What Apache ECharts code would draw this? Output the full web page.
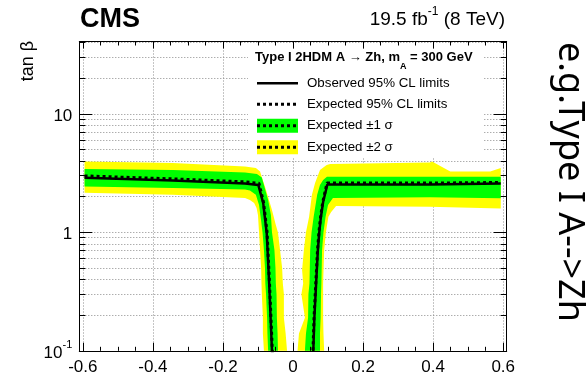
<!DOCTYPE html>
<html><head><meta charset="utf-8">
<script src="https://cdn.jsdelivr.net/npm/echarts@6/dist/echarts.min.js"></script>
<style>html,body{margin:0;padding:0;background:#fff}#c{width:586px;height:376px}</style>
</head><body><div id="c"></div>
<script>
// ---- tick values / labels ----
const xMajorTicks = [-0.6, -0.4, -0.2, 0, 0.2, 0.4, 0.6];
const xTickLabels = ['-0.6', '-0.4', '-0.2', '0', '0.2', '0.4', '0.6'];
const xMinorTicks = [-0.6,-0.55,-0.5,-0.45,-0.4,-0.35,-0.3,-0.25,-0.2,-0.15,-0.1,-0.05,0,0.05,0.1,0.15,0.2,0.25,0.3,0.35,0.4,0.45,0.5,0.55,0.6];
const yMajorTicks = [0.1, 1, 10];
const yTickLabels = [['10', '-1'], ['1', ''], ['10', '']];
const yMinorTicks = [0.1,0.2,0.3,0.4,0.5,0.6,0.7,0.8,0.9,1,2,3,4,5,6,7,8,9,10,20,30,40];

// ---- exclusion contours [cos(beta-alpha), tan beta] ----
const yellowLeft = [[-0.595,3.96],[-0.343,3.85],[-0.137,3.59],[-0.106,3.49],[-0.094,3.25],[-0.077,2.27],[-0.060,1.54],[-0.049,1.15],[-0.043,1.0],[-0.037,0.71],[-0.031,0.50],[-0.029,0.37],[-0.026,0.30],[-0.026,0.19],[-0.021,0.14],[-0.017,0.1],[-0.017,0.09],[-0.083,0.09],[-0.083,0.1],[-0.086,0.14],[-0.086,0.19],[-0.089,0.30],[-0.090,0.37],[-0.091,0.50],[-0.094,0.71],[-0.097,1.0],[-0.100,1.40],[-0.104,1.6],[-0.111,1.77],[-0.123,1.87],[-0.137,1.95],[-0.343,2.07],[-0.595,2.15]];
const greenLeft = [[-0.595,3.42],[-0.343,3.36],[-0.137,3.20],[-0.103,3.10],[-0.089,2.90],[-0.071,1.87],[-0.063,1.40],[-0.060,1.0],[-0.053,0.71],[-0.050,0.50],[-0.049,0.37],[-0.047,0.30],[-0.046,0.19],[-0.044,0.14],[-0.043,0.1],[-0.043,0.09],[-0.071,0.09],[-0.071,0.1],[-0.073,0.14],[-0.074,0.19],[-0.077,0.30],[-0.079,0.37],[-0.080,0.50],[-0.083,0.71],[-0.087,1.0],[-0.091,1.25],[-0.097,1.70],[-0.106,2.07],[-0.123,2.25],[-0.137,2.30],[-0.343,2.36],[-0.595,2.43]];
const observedLeft = [[-0.595,2.89],[-0.343,2.73],[-0.137,2.58],[-0.099,2.51],[-0.085,1.76],[-0.075,0.98],[-0.068,0.37],[-0.060,0.1],[-0.0597,0.09]];
const expectedLeft = [[-0.595,2.99],[-0.343,2.82],[-0.137,2.66],[-0.097,2.59],[-0.084,1.78],[-0.074,1.0],[-0.067,0.37],[-0.059,0.1],[-0.0587,0.09]];

const yellowRight = [[0.013,0.09],[0.013,0.1],[0.017,0.14],[0.034,0.19],[0.024,0.30],[0.029,0.37],[0.026,0.48],[0.031,0.71],[0.037,1.0],[0.046,1.35],[0.054,2.07],[0.063,2.6],[0.077,3.36],[0.096,3.70],[0.106,3.77],[0.391,3.88],[0.397,3.96],[0.449,3.26],[0.563,3.26],[0.593,3.49],[0.593,1.59],[0.391,1.64],[0.123,1.67],[0.109,1.48],[0.101,1.35],[0.094,1.0],[0.089,0.71],[0.086,0.37],[0.086,0.19],[0.087,0.14],[0.089,0.1],[0.089,0.09]];
const greenRight = [[0.034,0.09],[0.034,0.1],[0.037,0.14],[0.043,0.19],[0.044,0.30],[0.047,0.37],[0.049,0.71],[0.053,1.0],[0.059,1.35],[0.069,2.07],[0.077,2.51],[0.086,2.76],[0.097,2.94],[0.593,2.94],[0.593,1.94],[0.391,1.97],[0.114,1.95],[0.100,1.70],[0.093,1.35],[0.087,1.0],[0.083,0.71],[0.081,0.37],[0.080,0.30],[0.079,0.19],[0.077,0.14],[0.077,0.1],[0.077,0.09]];
const observedRight = [[0.058,0.09],[0.058,0.1],[0.061,0.19],[0.066,0.37],[0.071,0.71],[0.075,1.0],[0.079,1.3],[0.086,1.8],[0.098,2.53],[0.391,2.53],[0.593,2.58]];
const expectedRight = [[0.057,0.09],[0.057,0.1],[0.060,0.19],[0.065,0.37],[0.070,0.71],[0.074,1.0],[0.078,1.3],[0.085,1.8],[0.097,2.6],[0.391,2.6],[0.593,2.63]];

const legendHeader = ['Type I 2HDM A \u2192 Zh, m', 'A', ' = 300 GeV'];
const legendLabels = ['Observed 95% CL limits', 'Expected 95% CL limits', 'Expected \u00b11 \u03c3', 'Expected \u00b12 \u03c3'];
const yAxisTitle = 'tan \u03b2';
const sideNote = 'e.g.Type I A-->Zh';

// ---- chart ----
const ff = '"Liberation Sans", Arial, Helvetica, sans-serif';
const X0 = -0.61, X1 = 0.61, Y0 = 0.1, Y1 = 40.7;
const YELLOW = '#ffff00', GREEN = '#00ff00';

function polySeries(pts, color) {
  return {
    type: 'custom', coordinateSystem: 'cartesian2d', clip: true, silent: true, z: 2,
    data: pts, encode: { x: 0, y: 1 },
    renderItem: function (params, api) {
      if (params.dataIndex !== 0) return null;
      return { type: 'polygon', shape: { points: pts.map(p => api.coord(p)) }, style: { fill: color } };
    }
  };
}
function lineSeries(pts, dashed, w) {
  return {
    type: 'line', data: pts, symbol: 'none', clip: true, silent: true, z: 3,
    lineStyle: { color: '#000', width: w, type: dashed ? [3, 3] : 'solid' }
  };
}
function xAx(pos, ticks, len, showLine) {
  return {
    type: 'value', position: pos, min: X0, max: X1, z: 10,
    axisLine: { show: showLine, onZero: false, lineStyle: { color: '#000', width: 1 } },
    axisTick: { show: true, inside: true, length: len, customValues: ticks, lineStyle: { color: '#000', width: 1 } },
    axisLabel: { show: false }, splitLine: { show: false }
  };
}
function yAx(pos, ticks, len, showLine) {
  return {
    type: 'log', logBase: 10, position: pos, min: Y0, max: Y1, z: 10,
    axisLine: { show: showLine, onZero: false, lineStyle: { color: '#000', width: 1 } },
    axisTick: { show: true, inside: true, length: len, customValues: ticks, lineStyle: { color: '#000', width: 1 } },
    axisLabel: { show: false }, splitLine: { show: false }
  };
}
const gridLine = { show: true, lineStyle: { color: '#8a8a8a', width: 1, type: [1, 2] } };

const xAxes = [
  { type: 'value', position: 'bottom', min: X0, max: X1, z: 0,
    axisLine: { show: false, onZero: false },
    axisTick: { show: false, customValues: xMajorTicks },
    axisLabel: { show: true, customValues: xMajorTicks, margin: 8, fontSize: 17, fontFamily: ff, color: '#000',
      formatter: function (v) { let i = xMajorTicks.findIndex(t => Math.abs(t - v) < 1e-6); return i >= 0 ? xTickLabels[i] : ''; } },
    splitLine: gridLine },
  xAx('bottom', xMajorTicks, 8, true),
  xAx('bottom', xMinorTicks, 4, false),
  xAx('top', xMajorTicks, 7, true),
  xAx('top', xMinorTicks, 4, false)
];
const yAxes = [
  { type: 'log', logBase: 10, position: 'left', min: Y0, max: Y1, z: 0,
    axisLine: { show: false, onZero: false },
    axisTick: { show: false, customValues: yMinorTicks },
    axisLabel: { show: true, customValues: yMajorTicks, margin: 7, color: '#000',
      formatter: function (v) {
        let i = yMajorTicks.findIndex(t => Math.abs(Math.log10(t) - Math.log10(v)) < 1e-6);
        if (i < 0) return '';
        const l = yTickLabels[i];
        return '{b|' + l[0] + '}' + (l[1] ? '{s|' + l[1] + '}' : '');
      },
      rich: { b: { fontSize: 17, fontFamily: ff, color: '#000', lineHeight: 22, verticalAlign: 'bottom' },
              s: { fontSize: 11, fontFamily: ff, color: '#000', lineHeight: 11, verticalAlign: 'top' } } },
    splitLine: gridLine },
  yAx('left', yMajorTicks, 13, true),
  yAx('left', yMinorTicks, 6, false),
  yAx('right', yMajorTicks, 13, true),
  yAx('right', yMinorTicks, 6, false)
];

const series = [
  polySeries(yellowLeft, YELLOW), polySeries(yellowRight, YELLOW),
  polySeries(greenLeft, GREEN), polySeries(greenRight, GREEN),
  lineSeries(observedLeft, false, 2.5), lineSeries(observedRight, false, 2.5),
  lineSeries(expectedLeft, true, 3), lineSeries(expectedRight, true, 3)
];

// legend drawn as graphic
const LX0 = 257, LX1 = 298, LTX = 307, rows = [83.3, 104.2, 125.7, 147.3];
const lg = [];
lg.push({ type: 'rect', shape: { x: 248, y: 50, width: 236, height: 107 }, style: { fill: '#fff' }, z: 50 });
lg.push({ type: 'text', x: 255, y: 61.3, z: 51, style: {
  text: '{h|' + legendHeader[0] + '}{u|' + legendHeader[1] + '}{h|' + legendHeader[2] + '}',
  rich: { h: { font: 'bold 13px ' + ff, fill: '#000', lineHeight: 20, verticalAlign: 'top' },
          u: { font: 'bold 9px ' + ff, fill: '#000', lineHeight: 9, verticalAlign: 'bottom' } },
  align: 'left', verticalAlign: 'middle' } });
lg.push({ type: 'line', z: 51, shape: { x1: LX0, y1: rows[0], x2: LX1, y2: rows[0] }, style: { stroke: '#000', lineWidth: 2.5 } });
lg.push({ type: 'line', z: 51, shape: { x1: LX0, y1: rows[1], x2: LX1, y2: rows[1] }, style: { stroke: '#000', lineWidth: 3, lineDash: [3, 3] } });
lg.push({ type: 'rect', z: 51, shape: { x: LX0, y: rows[2] - 7, width: LX1 - LX0, height: 14 }, style: { fill: GREEN } });
lg.push({ type: 'line', z: 52, shape: { x1: LX0, y1: rows[2], x2: LX1, y2: rows[2] }, style: { stroke: '#000', lineWidth: 3, lineDash: [3, 3] } });
lg.push({ type: 'rect', z: 51, shape: { x: LX0, y: rows[3] - 7, width: LX1 - LX0, height: 14 }, style: { fill: YELLOW } });
lg.push({ type: 'line', z: 52, shape: { x1: LX0, y1: rows[3], x2: LX1, y2: rows[3] }, style: { stroke: '#000', lineWidth: 3, lineDash: [3, 3] } });
legendLabels.forEach((t, i) => lg.push({ type: 'text', x: LTX, y: rows[i], z: 52,
  style: { text: t, font: '13.3px ' + ff, fill: '#000', align: 'left', verticalAlign: 'middle' } }));

const texts = [
  { type: 'text', x: 80, y: 19.9, z: 60, style: { text: 'CMS', font: 'bold 27px ' + ff, fill: '#000', align: 'left', verticalAlign: 'middle' } },
  { type: 'text', x: 505, y: 17.5, z: 60, style: {
      text: '{a|19.5 fb}{s|-1}{a| (8 TeV)}',
      rich: { a: { font: '19px ' + ff, fill: '#000', lineHeight: 24, verticalAlign: 'bottom' },
              s: { font: '12px ' + ff, fill: '#000', lineHeight: 12, verticalAlign: 'top' } },
      align: 'right', verticalAlign: 'middle' } },
  { type: 'text', x: 28, y: 61, rotation: Math.PI / 2, z: 60, style: { text: yAxisTitle, font: '18px ' + ff, fill: '#000', align: 'center', verticalAlign: 'middle' } },
  { type: 'text', x: 569, y: 182, rotation: -Math.PI / 2, z: 60, style: { text: sideNote, font: '36px "Noto Sans", "Open Sans", sans-serif', fill: '#000', align: 'center', verticalAlign: 'middle' } }
];

const chart = echarts.init(document.getElementById('c'), null, { renderer: 'canvas' });
chart.setOption({
  animation: false,
  backgroundColor: '#fff',
  grid: { left: 79.3, right: 79.3, top: 41.5, bottom: 25.2, containLabel: false, outerBoundsMode: 'none' },
  xAxis: xAxes,
  yAxis: yAxes,
  series: series,
  graphic: lg.concat(texts)
});
</script>
</body></html>
